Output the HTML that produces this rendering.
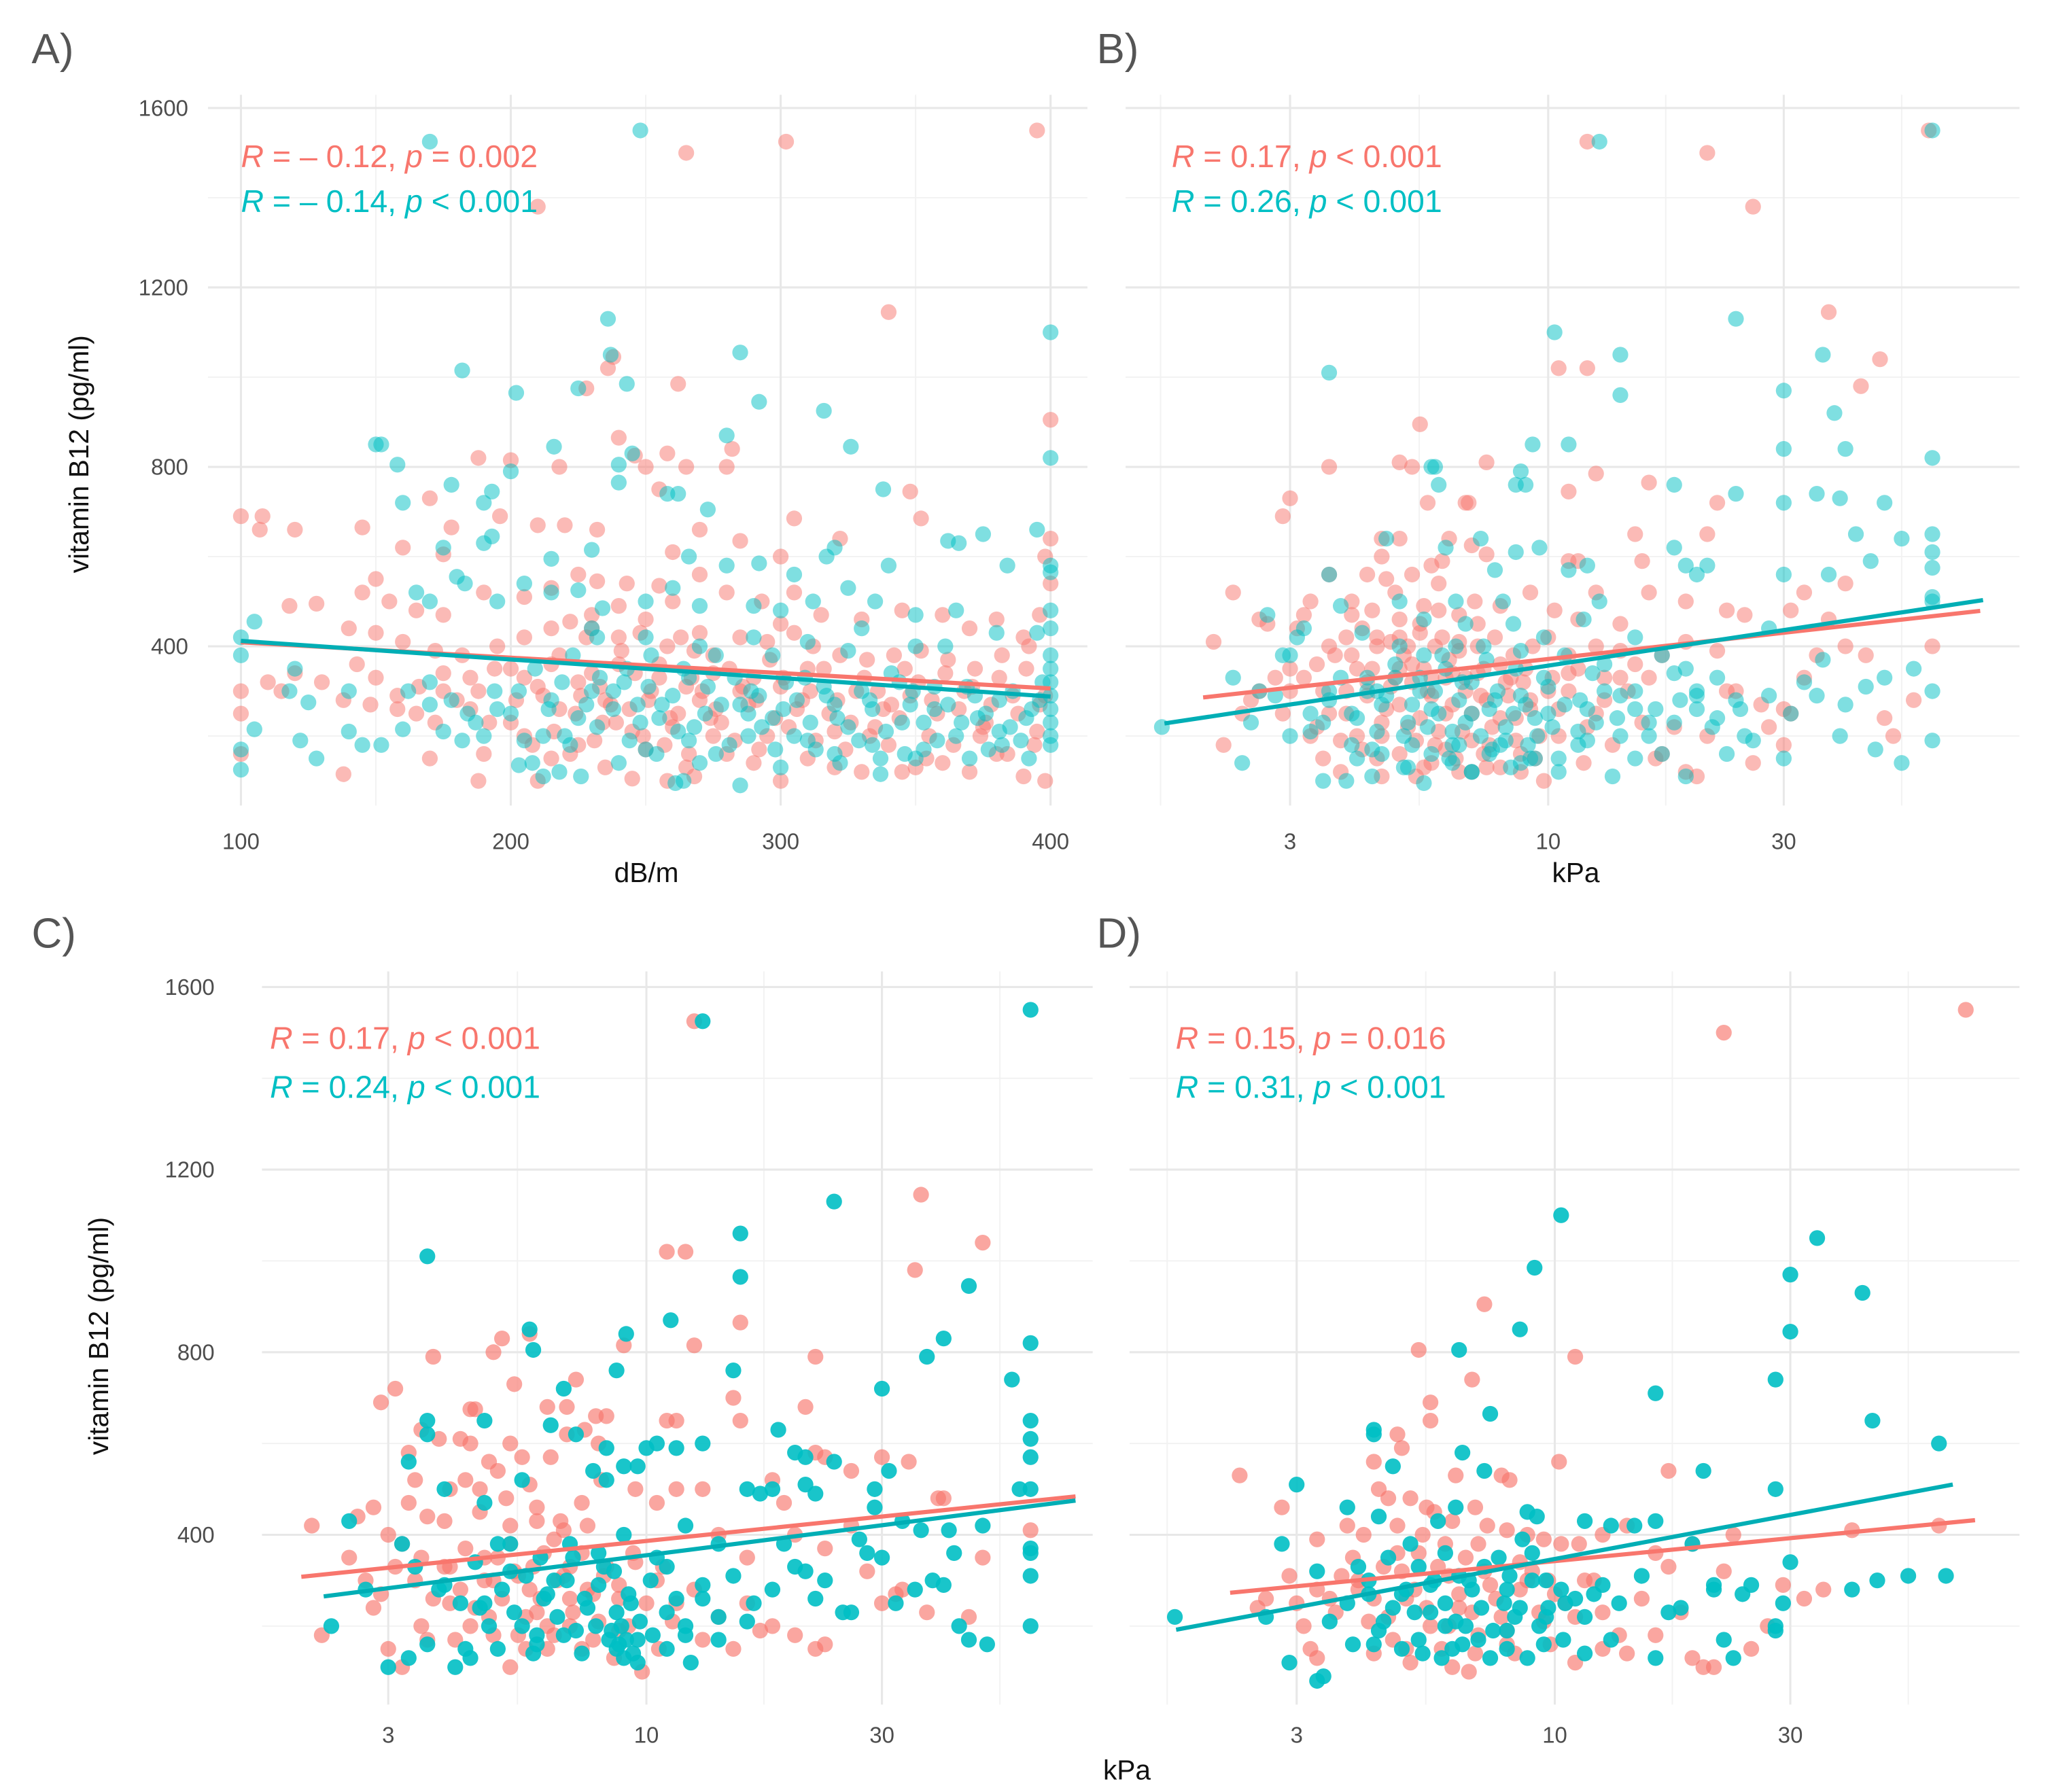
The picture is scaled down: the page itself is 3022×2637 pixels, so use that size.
<!DOCTYPE html>
<html><head><meta charset="utf-8"><style>
html,body{margin:0;padding:0;background:#fff;}
svg{display:block;}
text{font-family:"Liberation Sans",sans-serif;}
</style></head><body>
<svg id="fig" width="3022" height="2637" viewBox="0 0 1560.2 1361.4" xmlns="http://www.w3.org/2000/svg">
<rect width="1560.2" height="1361.4" fill="#fff"/>
</svg>
<script>
// ---------- DATA ----------
const yTicks=[400,800,1200,1600];
const yMinor=[200,600,1000,1400];
const aXTicks=[100,200,300,400];
const aXMinor=[150,250,350];
const kTicks=[3,10,30];
const kMinor=[1.64,5.48,17.3,52];
const red="#F8766D", teal="#00BFC4";

const aRedX=[395,302,265,210,340,236,238,262,228,100,108,107,120,145,188,200,218,246,258,250,265,280,282,240,255,348,400,352,305,170,178,160,196,210,220,232,270,260,285,300,322,400,398,175,150,155,118,128,145,165,175,190,205,215,225,232,243,255,270,280,293,305,315,330,345,360,370,380,390,400,396,140,150,160,172,182,195,205,215,222,230,240,248,258,268,275,285,295,305,312,322,332,342,352,362,372,382,392,110,120,115,130,138,148,158,165,175,185,192,202,210,218,226,234,244,252,262,270,278,288,298,308,318,328,338,348,358,368,378,388,398,100,100,100,138,188,210,245,258,268,300,330,345,390,398,205,225,250,280,310,340,360,380,190,170,215,235,265,290,320,350,370,230,240,255,275,290,300,310,225,215,200,185,175,265,285,235,245,260,275,295,320,335,355,375,395];
const aRedY=[1550,1525,1500,1380,1145,1020,1045,985,975,690,690,660,660,665,820,815,800,825,830,800,800,800,840,865,750,745,905,685,685,730,665,620,690,670,670,660,660,610,635,600,640,640,600,605,550,500,490,495,520,480,470,520,510,530,560,545,540,535,560,520,500,520,470,460,480,470,440,460,420,540,470,440,430,410,390,380,400,420,440,455,440,420,430,400,390,380,420,410,430,400,380,370,380,390,370,350,380,400,320,340,300,320,280,270,290,250,300,260,230,280,310,260,290,230,260,300,250,280,230,270,240,280,250,300,260,290,250,300,270,250,290,300,250,160,115,100,100,105,100,110,100,120,120,110,100,200,180,170,160,150,180,140,160,160,150,150,130,130,140,130,130,120,340,360,330,340,330,310,350,320,360,350,330,340,310,300,280,210,220,200,200,210,220,200,220,210];
const aRedX2=[205,212,218,224,228,233,237,241,246,251,255,259,263,267,271,276,281,286,291,296,301,306,311,316,321,326,331,336,341,346,351,356,361,366,371,376,381,386,391,396,200,208,216,222,231,239,249,257,266,274,283,292,303,313,324,333,344,354,364,374,384,394,188,194,180,172,166,158,150,143,230,250,270,300,260,240];
const aRedY2=[330,290,380,250,420,310,270,390,340,280,360,240,420,330,300,260,350,310,280,370,330,260,300,350,280,230,330,300,270,350,320,280,340,260,310,230,330,290,350,270,230,180,210,160,190,230,200,180,160,240,190,170,220,190,170,200,240,150,180,200,160,180,300,350,280,230,310,260,330,360,470,460,430,450,500,490];
const aTealX=[170,248,236,237,285,243,225,182,202,292,316,400,150,152,158,216,245,280,326,400,178,200,240,240,258,262,190,193,160,273,338,395,362,366,375,384,400,400,340,317,320,305,292,280,266,230,215,190,193,175,180,183,165,170,195,205,215,225,234,250,260,270,290,300,312,325,335,350,365,380,395,400,400,400,400,400,400,400,400,400,400,100,100,105,120,118,125,105,100,100,122,128,140,140,145,152,160,162,170,175,182,184,190,194,200,205,208,212,215,220,225,230,232,238,242,248,252,256,262,266,272,276,281,285,289,293,297,301,305,309,313,317,321,325,329,333,337,341,345,349,353,357,361,365,369,373,377,381,385,389,393,397,218,240,261,264,285,337,350,203,226,300,320,270,250];
const aTealY=[1525,1550,1130,1050,1055,985,975,1015,965,945,925,1100,850,850,805,845,830,870,845,820,760,790,805,765,740,740,720,745,720,705,750,660,635,630,650,580,580,565,580,600,620,560,585,580,600,615,595,630,645,620,555,540,520,500,500,540,520,525,485,500,530,490,490,480,500,530,500,470,480,430,430,480,440,380,350,320,290,260,230,200,180,420,380,455,350,300,275,215,170,125,190,150,300,210,180,180,215,300,270,210,190,250,200,300,250,190,140,110,280,200,240,300,420,260,320,230,380,270,210,330,250,380,180,270,300,220,380,260,200,330,170,290,240,390,190,280,150,340,230,300,170,260,400,200,310,240,170,280,220,190,260,320,120,140,95,100,90,115,150,135,110,130,160,140,170];
const aTealX2=[203,209,214,219,223,228,233,238,243,247,251,255,260,264,268,273,278,283,288,292,297,302,306,311,316,320,325,330,334,339,344,348,353,357,362,367,372,376,381,386,391,396,212,222,232,244,254,266,276,288,298,310,322,334,346,358,370,382,392,195,187,178,170,230,250,270,290,310,330,350];
const aTealY2=[300,350,260,320,380,270,330,300,350,270,310,240,290,350,220,310,270,330,250,290,240,320,280,230,310,270,220,300,260,210,320,270,230,310,270,230,290,250,210,300,240,280,200,180,220,190,160,190,160,200,170,190,140,180,160,190,150,180,150,260,230,280,320,440,420,400,420,410,440,400];

const bRedX=[12,21,26,59,37,10.5,12,47,43,5.5,7.5,16,12.5,11,3.6,5,5.3,22,2.9,3.0,15,21,11,11.5,15.5,5,4.6,7,7.5,6.3,5.7,6.8,6.9,4.3,3.6,4.6,5.8,2.3,3.3,4,4.9,5.6,6,7.1,8,9.2,10.3,11.5,12.5,14,16,19,23,25,31,33,40,37,44,55,48,60,2.1,2.6,2.7,3.1,3.2,3.6,3.9,4.2,4.5,4.8,5.2,5.5,6.1,6.6,7.2,7.8,8.5,9.3,10,11,12.5,14,15,17,19,22,24,27,30,33,35,40,2.2,2.6,2.9,3.0,3.3,3.5,3.6,3.9,4.1,4.3,4.5,4.7,5.0,5.2,5.4,5.7,5.9,6.2,6.4,6.7,7.0,7.3,7.6,8.0,8.4,8.8,9.2,9.8,10.5,11,11.8,12.5,13.5,14.5,15.5,16.5,18,19,20,21,23,26,28,30,31,50,3.4,4.0,4.4,4.9,5.3,5.8,6.3,6.8,7.4,8.2,9.0,10.2,11.5,13,16,3.8,4.6,5.6,6.5,7.5,8.8,17];
const bRedY=[1525,1500,1380,1550,1145,1020,1020,1040,980,895,810,765,785,745,800,810,800,720,690,730,650,650,590,590,590,640,640,625,605,640,720,720,720,560,560,600,580,520,500,470,520,490,540,500,490,520,480,460,520,450,520,500,480,470,480,520,540,460,380,280,240,400,410,460,450,440,470,400,420,440,420,410,400,430,420,410,400,420,380,400,420,380,400,390,360,380,410,390,300,270,260,330,380,400,180,300,250,300,200,150,250,300,200,320,150,260,350,220,110,300,180,250,340,210,120,290,180,240,330,160,260,100,200,300,140,250,180,300,230,150,220,120,110,200,300,140,220,180,250,200,360,380,350,330,360,330,370,330,350,320,350,330,350,330,330,120,110,130,150,130,120,160];
const bRedX2=[3.2,3.5,3.7,3.9,4.1,4.3,4.5,4.6,4.8,5.0,5.1,5.3,5.5,5.6,5.8,6.0,6.2,6.4,6.6,6.8,7.0,7.2,7.5,7.7,8.0,8.3,8.6,8.9,9.2,9.6,10,10.5,11,12,13,14,3.4,3.8,4.2,4.6,5.0,5.4,5.8,6.2,6.6,7.0,7.4,8.0,8.6,9.4,4.0,4.4,5.0,5.5,6,6.6,7.2,3.0,2.8,2.5,2.4,4.7,5.3,6.1,5.0,5.9];
const bRedY2=[330,300,380,250,350,290,400,230,310,270,380,320,240,350,290,210,330,270,390,300,250,340,280,220,360,290,240,320,280,200,300,260,340,220,280,330,220,190,170,200,160,190,140,170,120,190,160,130,190,150,500,480,460,450,480,470,450,350,330,280,250,550,560,590,420,400];
const bTealX=[12.7,60,10.3,14,24,36,14,30,38,30,3.6,9.3,11,9,8.6,8.8,5.8,5.9,6,40,48,60,30,18,24,35,39,42,52,60,60,60,60,60,37,45,30,28,21,20,19,18,12,12.7,11,9.6,7.3,7.8,8.1,8.6,6.2,6.5,5.6,4.7,3.6,3.8,4.2,3.1,2.9,2.6,2.3,1.65,2.4,3.0,3.5,3.9,4.4,5.6,5.1,6.3,7,8,8.8,10,10.5,11.5,12.5,14,15,16.5,18,19,20,21.5,23,24.5,26,28,30,31,33,36,40,44,48,55,60,60,52,46,39,35,3.3,3.6,4.0,4.3,4.6,4.9,5.2,5.5,5.8,6.1,6.4,6.7,7.0,7.4,7.8,8.2,8.6,9.0,9.5,10.0,10.8,11.6,12.3,13,13.8,15,16,17,18.5,20,22,24,4.5,5.3,6.6,7.7,9.2,10.5,12,13.5,15,17,19,4.1,5.0,6.8,8.5,9.8,11.8,3.2,2.7];
const bTealY=[1525,1550,1100,1050,1130,1050,960,970,920,840,1010,850,850,760,760,790,800,800,760,840,720,820,720,760,740,740,730,650,640,650,610,575,500,510,560,590,560,440,580,560,580,620,580,500,570,620,640,570,500,610,620,500,460,640,560,490,430,420,380,300,330,220,140,200,100,100,110,95,130,150,120,180,140,250,150,180,230,200,300,260,230,350,290,220,160,260,190,290,150,250,320,370,270,310,330,350,300,190,140,170,200,290,250,300,250,330,270,360,230,300,260,380,210,320,250,400,280,220,350,270,200,310,380,280,340,300,240,420,230,380,280,300,330,280,300,180,180,170,150,120,190,110,150,160,110,150,500,450,450,420,460,440,470,210];
const bTealX2=[3.3,3.6,3.8,4.1,4.3,4.5,4.7,4.9,5.1,5.3,5.5,5.7,5.9,6.0,6.2,6.4,6.6,6.8,7.0,7.3,7.6,7.9,8.2,8.5,8.8,9.1,9.4,9.8,10.2,10.8,11.5,12,13,14,15,16,18,20,22,25,3.5,4.0,4.6,5.2,5.8,6.4,7.0,7.6,8.4,9.4,4.4,5.0,5.6,6.5,7.5,8.8,3.0,2.8,2.5];
const bTealY2=[280,330,240,300,210,290,330,200,270,330,220,300,250,350,180,280,230,320,200,260,300,190,250,290,180,240,330,220,270,210,260,360,290,260,200,340,260,240,200,230,180,160,130,160,140,120,160,130,150,170,400,380,400,370,390,380,290,230,260];

const cRedX=[12.5,36,48,35,11,12,15.5,22,12.5,9,3.7,4.9,5.1,5.8,7.2,5.4,2.9,3.1,4.4,4.5,6.3,6.9,7.9,8.3,11,11.5,15,15.5,21,34,30,23,22,26,3.4,3.5,3.8,4.2,4.4,4.8,5.3,5.6,6.4,6.9,7.5,8,3.3,2.8,2.6,2.1,2.2,3.3,3.6,4.0,4.6,5.2,6,6.7,7.4,8.1,9.5,10.5,11.5,13,18,19,26,28,33,37,45,48,60,39,40,3.0,3.2,3.5,3.9,4.3,4.7,5.0,5.4,5.8,6.2,6.6,7.0,7.6,8.2,8.8,9.5,10.5,11.5,12.5,14,16,18,20,23,30,32,2.7,2.8,3.0,3.2,3.6,4.0,4.4,4.9,5.3,5.7,6.0,6.5,7.0,7.4,8.0,8.6,9.2,9.8,10.6,11.3,13,15,17,22,20,23,14,16];
const cRedY=[1525,1145,1040,980,1020,1020,865,790,815,815,790,800,830,840,740,730,690,720,675,675,680,680,660,660,650,650,700,650,680,560,570,570,580,540,520,630,610,610,600,560,600,570,570,620,630,600,580,460,440,420,180,470,440,500,500,480,460,430,470,520,500,470,500,500,520,470,420,320,280,230,220,350,410,480,480,400,380,350,330,370,300,350,320,280,360,300,330,280,310,260,340,300,250,280,220,250,200,180,160,250,270,300,240,150,110,170,250,200,180,110,150,230,180,260,150,210,130,200,100,150,210,170,150,190,150,400,370,400,350];
const cRedX2=[3.4,3.7,4.0,4.2,4.5,4.7,4.9,5.1,5.3,5.5,5.7,5.9,6.1,6.3,6.5,6.8,7.1,7.4,7.8,8.3,8.8,9.4,10,10.8,3.5,4.1,4.8,5.5,6.3,7.0,7.8,8.8,3.9,4.6,5.3,6.0,6.8,7.6,4.3,5.0,5.8,3.1,2.9,2.5];
const cRedY2=[300,260,330,280,240,350,300,260,380,310,220,330,260,200,390,310,230,360,270,330,290,360,250,330,200,170,220,180,150,200,170,190,430,450,420,430,410,420,520,540,510,330,270,350];
const cTealX=[13,60,24,15.5,15.5,45,3.6,5.8,5.9,9.1,11.2,8.7,6.8,40,37,30,55,60,60,60,60,60,29,18.5,15,13,10,10.5,11.5,20,21,24,22,17,8.3,7.2,6.4,4.7,3.6,3.6,3.3,3.9,4.7,5.6,7.8,9.0,9.6,8.3,16,18,21,29,31,33,36,48,57,60,60,60,60,49,45,43,40,41,38,42,30,28,25,22,20,18,16,14,12,11,12.3,2.3,2.5,2.7,3.0,3.2,3.4,3.8,4.1,4.4,4.7,5.0,5.3,5.6,5.9,6.2,6.5,6.8,7.1,7.5,7.9,8.2,8.5,8.8,9.0,9.3,9.6,10.2,11,11.5,12,13,14,15,16.5,19,21,23,26,32,35,27,8.6,8.9,9.1,8.7,9.4];
const cTealY=[1525,1550,1130,1060,965,945,1010,850,805,840,870,760,720,830,790,720,740,820,650,610,570,500,500,630,760,600,590,600,590,580,570,560,490,490,590,620,640,650,650,620,560,500,470,520,540,550,550,520,500,500,510,460,540,430,410,420,500,370,360,310,200,160,170,200,290,410,300,360,350,360,230,260,330,280,210,170,180,150,120,200,430,280,110,380,330,280,110,130,250,150,320,200,140,260,300,180,350,260,200,330,190,160,130,250,170,300,330,260,420,290,380,310,250,380,320,300,230,250,280,390,320,200,170,150,140,160];
const cTealX2=[3.6,3.9,4.2,4.5,4.8,5.1,5.4,5.7,6.0,6.3,6.6,6.9,7.2,7.6,8.0,8.4,8.7,9.2,9.7,10.3,11,12,13,14,4.6,5.3,6.1,7.0,8.0,9.0,10.5,5.0,6.0,7.4,4.3,9.6,3.3];
const cTealY2=[290,250,340,200,280,230,310,180,270,220,300,190,240,290,170,230,270,210,180,230,200,260,220,240,380,350,380,360,400,350,380,160,140,150,120,130,230];

const dRedX=[22,68,7.2,5.3,11,6.8,5.6,5.6,4.8,4.9,4.3,10.2,17,7.8,8.1,6.3,2.3,2.8,3.3,3.8,4.4,4.6,5.1,5.5,5.7,6.2,6.9,7.3,8.0,8.8,9.5,10.3,11.2,12.5,14,16,19,23,22,40,60,35,32,29,27,25,21,20,19,16,14,12.5,11,2.5,2.6,2.9,3.1,3.2,3.5,3.7,4.0,4.2,4.5,4.7,5.0,5.3,5.6,5.9,6.1,6.4,6.7,7.0,7.4,7.8,8.3,8.8,9.3,9.8,10.5,11.5,12.5,13.5,15,17,18,3.3,4.3,5.1,6.2,3.9,4.8,6.6,8.5,9.7];
const dRedY=[1500,1550,905,805,790,740,690,650,620,590,560,560,540,530,520,530,530,460,390,420,500,480,480,460,450,430,460,420,410,400,390,380,380,400,420,360,380,400,320,410,420,280,260,290,200,150,110,110,130,180,140,150,120,240,260,310,200,150,260,310,280,210,330,170,260,360,200,150,310,240,100,180,290,220,140,300,230,160,250,300,230,180,260,330,230,130,140,120,110,350,360,350,340,300];
const dRedX2=[3.6,4.0,4.3,4.6,4.9,5.2,5.5,5.8,6.1,6.4,6.8,7.2,7.6,8.0,8.5,9.0,9.5,10,11,12,4.1,4.8,5.4,6.0,7.0,3.0,3.3,8.0,5.0,6.9];
const dRedY2=[230,300,260,220,320,280,240,330,200,270,230,320,260,190,280,320,210,270,220,300,400,420,400,380,380,250,280,160,150,140];
const dTealX=[10.3,9.1,34,30,42,30,8.5,28,16,6.4,44,60,4.3,4.3,7.4,6.5,7.2,4.7,20,28,3.0,3.8,4.4,5.8,6.3,8.8,9.2,11.5,13,14.5,16,19,2.8,3.3,4.0,4.6,5.1,5.3,5.7,6.0,6.4,6.8,7.2,7.7,8.1,8.6,9.0,9.6,10.3,11,12,13.5,15,17,18,21,21,24,25,29,30,45,40,52,62,1.7,2.6,2.9,3.3,3.4,3.5,3.9,4.4,4.7,4.9,5.3,5.6,5.9,6.2,6.6,7.0,7.4,7.9,8.3,8.8,9.3,9.7,10.4,11.5,13,16,22,23,28,28,5.0,4.2,6.0,8.0];
const dTealY=[1100,985,1050,970,930,845,850,740,710,805,650,600,620,630,665,580,540,550,540,500,510,460,440,430,460,450,440,430,420,420,430,380,380,320,330,350,380,330,300,360,310,280,330,350,310,390,360,300,280,260,270,250,310,230,240,290,280,270,290,250,340,300,280,310,310,220,220,120,80,90,210,160,190,240,150,170,230,130,150,200,170,130,250,220,130,200,240,170,140,170,130,170,130,200,190,280,270,200,190];
const dTealX2=[3.8,4.2,4.5,4.9,5.2,5.6,6.0,6.3,6.7,7.1,7.5,8.0,8.5,9.0,9.6,10.5,11.5,12.5,4.3,5.4,6.5,8.0,9.5];
const dTealY2=[250,300,210,270,230,290,250,210,300,240,190,280,240,300,220,250,220,290,160,140,160,150,160];

// regression endpoints [x0,x1], [y0,y1]
const aRedLineX=[100,400], aRedLineY=[409,306];
const aTealLineX=[100,400], aTealLineY=[412,288];
const bRedLineX=[2.0,75], bRedLineY=[286,479];
const bTealLineX=[1.67,76], bTealLineY=[228,503];
const cRedLineX=[2.0,74], cRedLineY=[308,484];
const cTealLineX=[2.22,74], cTealLineY=[265,475];
const dRedLineX=[2.2,71], dRedLineY=[273,432];
const dTealLineX=[1.71,64], dTealLineY=[192,510];

// ---------- DRAW ----------
const NS="http://www.w3.org/2000/svg";
const svg=document.getElementById('fig');
function mk(tag,attrs,parent){const e=document.createElementNS(NS,tag);for(const k in attrs)e.setAttribute(k,attrs[k]);(parent||svg).appendChild(e);return e;}

const panels=[
 {id:'a',tag:'A)',tx:24,ty:48,x0:158,x1:826,y0:72,y1:612,
  sx:v=>183+(v-100)*2.05, sy:v=>491-(v-400)*0.3408, xt:aXTicks, xm:aXMinor, ytl:true, ylabX:143, tickY:645,
  rx:aRedX.concat(aRedX2),ry:aRedY.concat(aRedY2),tx2:aTealX.concat(aTealX2),ty2:aTealY.concat(aTealY2), ro:0.5,to:0.5, lines:[[aRedLineX,aRedLineY,red],[aTealLineX,aTealLineY,'#00AEB5']],
  ann:[183,119,153,'R = \u2013 0.12, ','p = 0.002','R = \u2013 0.14, ','p < 0.001'], xtitle:['dB/m',491,670], ytitle:[60,345]},
 {id:'b',tag:'B)',tx:833,ty:48,x0:855,x1:1534,y0:72,y1:612,
  sx:v=>1176+(Math.log10(v)-1)*375, sy:v=>491-(v-400)*0.3408, xt:kTicks, xm:kMinor, ytl:false, tickY:645,
  rx:bRedX.concat(bRedX2),ry:bRedY.concat(bRedY2),tx2:bTealX.concat(bTealX2),ty2:bTealY.concat(bTealY2), ro:0.5,to:0.5, lines:[[bRedLineX,bRedLineY,red],[bTealLineX,bTealLineY,'#00AEB5']],
  ann:[890,119,153,'R = 0.17, ','p < 0.001','R = 0.26, ','p < 0.001'], xtitle:['kPa',1197,670]},
 {id:'c',tag:'C)',tx:24,ty:720,x0:199,x1:830,y0:738,y1:1295,
  sx:v=>491+(Math.log10(v)-1)*375, sy:v=>1166-(v-400)*0.3468, xt:kTicks, xm:kMinor, ytl:true, ylabX:163, tickY:1324,
  rx:cRedX.concat(cRedX2),ry:cRedY.concat(cRedY2),tx2:cTealX.concat(cTealX2),ty2:cTealY.concat(cTealY2), ro:0.65,to:0.9, lines:[[cRedLineX,cRedLineY,red],[cTealLineX,cTealLineY,'#00AEB5']],
  ann:[205,789,826,'R = 0.17, ','p < 0.001','R = 0.24, ','p < 0.001'], xtitle:['kPa',856,1352], ytitle:[75,1015]},
 {id:'d',tag:'D)',tx:833,ty:720,x0:858,x1:1534,y0:738,y1:1295,
  sx:v=>1181+(Math.log10(v)-1)*375, sy:v=>1166-(v-400)*0.3468, xt:kTicks, xm:kMinor, ytl:false, tickY:1324,
  rx:dRedX.concat(dRedX2),ry:dRedY.concat(dRedY2),tx2:dTealX.concat(dTealX2),ty2:dTealY.concat(dTealY2), ro:0.65,to:0.9, lines:[[dRedLineX,dRedLineY,red],[dTealLineX,dTealLineY,'#00AEB5']],
  ann:[893,789,826,'R = 0.15, ','p = 0.016','R = 0.31, ','p < 0.001']}
];

panels.forEach(p=>{
  const g=mk('g',{});
  
  
  const t=mk('text',{x:p.tx,y:p.ty,'font-size':32,fill:'#555'},g); t.textContent=p.tag;
  
  
  const grid=mk('g',{},g);
  
  
  yMinor.forEach(v=>{const y=p.sy(v);if(y>p.y0&&y<p.y1)mk('line',{x1:p.x0,x2:p.x1,y1:y,y2:y,stroke:'#F2F2F2','stroke-width':1},grid);});
  p.xm.forEach(v=>{const x=p.sx(v);if(x>p.x0&&x<p.x1)mk('line',{x1:x,x2:x,y1:p.y0,y2:p.y1,stroke:'#F2F2F2','stroke-width':1},grid);});
  yTicks.forEach(v=>{const y=p.sy(v);mk('line',{x1:p.x0,x2:p.x1,y1:y,y2:y,stroke:'#E8E8E8','stroke-width':1.6},grid);});
  p.xt.forEach(v=>{const x=p.sx(v);mk('line',{x1:x,x2:x,y1:p.y0,y2:p.y1,stroke:'#E8E8E8','stroke-width':1.6},grid);});
  p.xt.forEach(v=>{const e=mk('text',{x:p.sx(v),y:p.tickY,'font-size':17,fill:'#4D4D4D','text-anchor':'middle'},g);e.textContent=v;
    
    });
  if(p.ytl) yTicks.forEach(v=>{const e=mk('text',{x:p.ylabX,y:p.sy(v)+6,'font-size':17,fill:'#4D4D4D','text-anchor':'end'},g);e.textContent=v;
    
    });
  const pts=mk('g',{},g);
  
  
  p.rx.forEach((v,i)=>{const c=mk('circle',{cx:p.sx(v),cy:p.sy(p.ry[i]),r:6,fill:red,'fill-opacity':p.ro},pts);
    
    });
  p.tx2.forEach((v,i)=>{const c=mk('circle',{cx:p.sx(v),cy:p.sy(p.ty2[i]),r:6,fill:teal,'fill-opacity':p.to},pts);
    
    });
  p.lines.forEach(L=>{const l=mk('line',{x1:p.sx(L[0][0]),x2:p.sx(L[0][1]),y1:p.sy(L[1][0]),y2:p.sy(L[1][1]),stroke:L[2],'stroke-width':3.2},g);
    
    });
  [[p.ann[1],p.ann[3],p.ann[4],red],[p.ann[2],p.ann[5],p.ann[6],teal]].forEach(a=>{
    const e=mk('text',{x:p.ann[0],y:a[0]+8,'font-size':24,fill:a[3]},g);
    
    
    let t1=mk('tspan',{'font-style':'italic'},e);t1.textContent='R';
    let t2=mk('tspan',{},e);t2.textContent=a[1].slice(1);
    let t3=mk('tspan',{'font-style':'italic'},e);t3.textContent='p';
    let t4=mk('tspan',{},e);t4.textContent=a[2].slice(1);
  });
  if(p.xtitle){const e=mk('text',{x:p.xtitle[1],y:p.xtitle[2],'font-size':21,fill:'#111','text-anchor':'middle'},g);e.textContent=p.xtitle[0];
    
    }
  if(p.ytitle){const e=mk('text',{x:0,y:0,'font-size':21,fill:'#111','text-anchor':'middle',transform:`translate(${p.ytitle[0]+7},${p.ytitle[1]}) rotate(-90)`},g);e.textContent='vitamin B12 (pg/ml)';
    
    }
});
</script>
</body></html>
